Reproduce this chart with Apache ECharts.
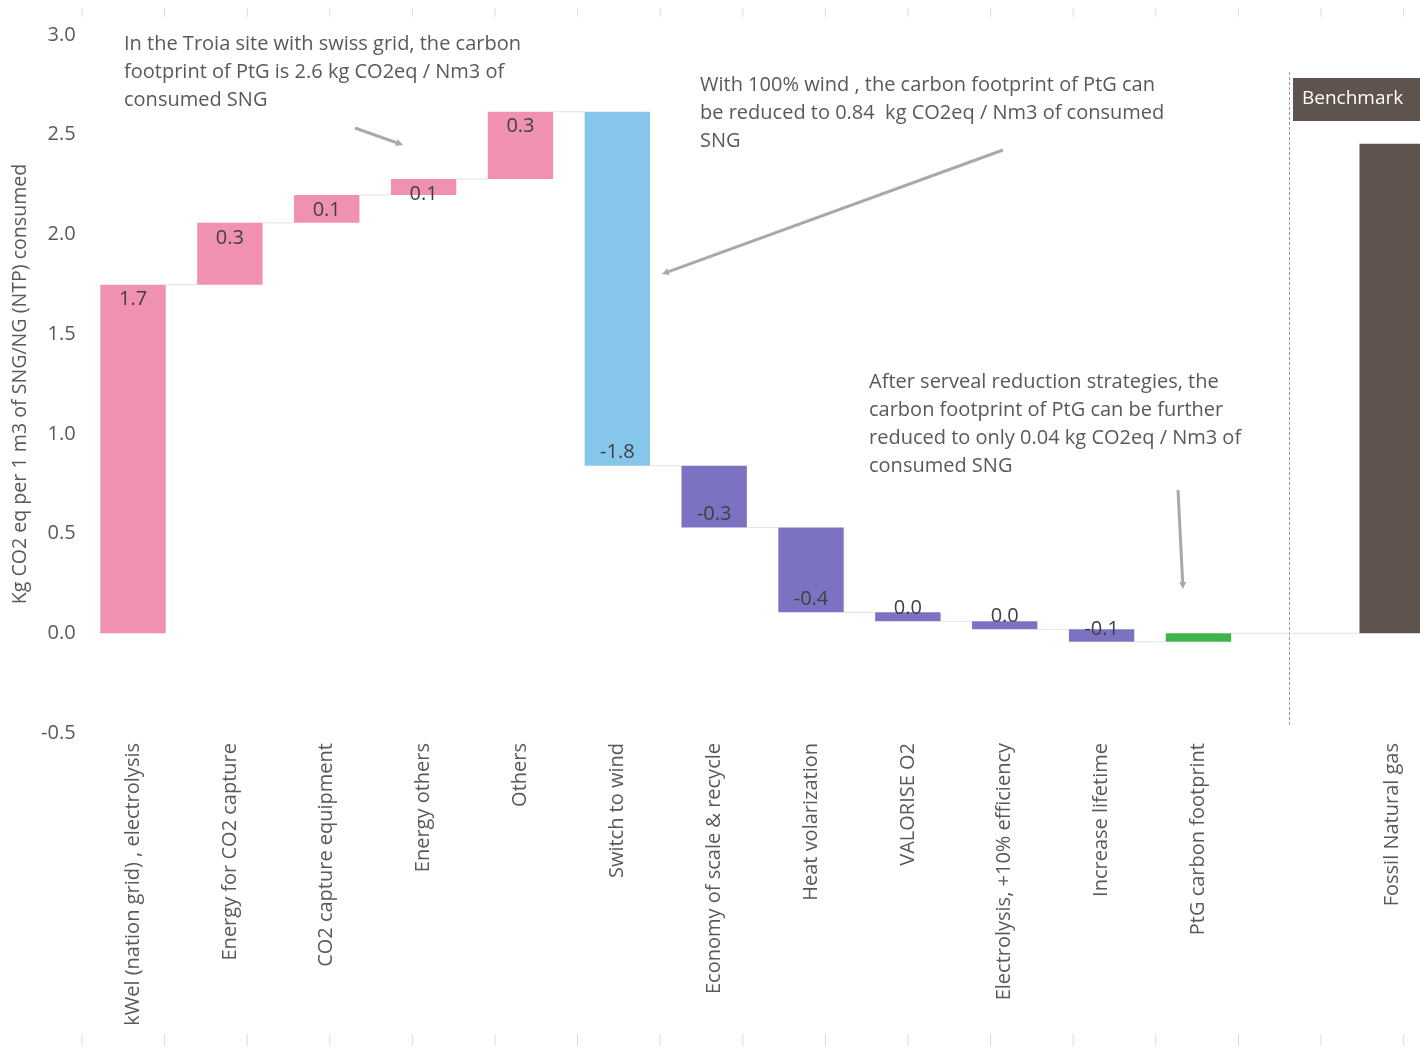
<!DOCTYPE html>
<html>
<head>
<meta charset="utf-8">
<script src="https://cdn.jsdelivr.net/npm/echarts@6/dist/echarts.min.js"></script>
<style>
html,body{margin:0;padding:0;background:#fff;}
#chart{width:1420px;height:1048px;}
</style>
</head>
<body>
<div id="chart"></div>
<script>
// ---------- data ----------
const categories = [
  'kWel (nation grid) , electrolysis',
  'Energy for CO2 capture',
  'CO2 capture equipment',
  'Energy others',
  'Others',
  'Switch to wind',
  'Economy of scale & recycle',
  'Heat volarization',
  'VALORISE O2',
  'Electrolysis, +10% efficiency',
  'Increase lifetime',
  'PtG carbon footprint',
  '',
  'Fossil Natural gas'
];
const stepValues = [1.748, 0.31, 0.14, 0.08, 0.337, -1.775, -0.31, -0.425, -0.045, -0.04, -0.063];
const stepLabels = ['1.7', '0.3', '0.1', '0.1', '0.3', '-1.8', '-0.3', '-0.4', '0.0', '0.0', '-0.1'];
const stepKinds  = ['up', 'up', 'up', 'up', 'up', 'wind', 'down', 'down', 'down', 'down', 'down'];
const fossilNaturalGas = 2.455;
const yTicks = [-0.5, 0, 0.5, 1.0, 1.5, 2.0, 2.5, 3.0];

// ---------- build waterfall rows ----------
const colors = {up:'#F191B2', wind:'#86C6EA', down:'#7C72C2', total:'#3DB54A', bench:'#5E534D'};
const rows = [];
let level = 0;
stepValues.forEach((v, i) => {
  rows.push([i, level, level + v, stepKinds[i], stepLabels[i]]);
  level += v;
});
rows.push([11, 0, level, 'total', '']);
rows.push([13, 0, fossilNaturalGas, 'bench', '']);

const FONT = '"Open Sans", Lato, sans-serif';
const TXT = '#595959';

const chart = echarts.init(document.getElementById('chart'), null, {renderer:'canvas'});

function renderItem(params, api) {
  const idx = api.value(0);
  const start = api.value(1);
  const end = api.value(2);
  const kind = rows[params.dataIndex][3];
  const lab = rows[params.dataIndex][4];
  const bw = api.size([1, 0])[0] * 0.675;
  const p0 = api.coord([idx, start]);
  const p1 = api.coord([idx, end]);
  const top = Math.min(p0[1], p1[1]);
  const bot = Math.max(p0[1], p1[1]);
  const children = [{
    type: 'rect',
    shape: {x: p0[0] - bw / 2, y: top, width: bw, height: bot - top},
    style: {fill: colors[kind]}
  }];
  const connLevel = (kind === 'total') ? start : end;
  const nextIdx = (kind === 'total') ? 13 : idx + 1;
  if (kind !== 'bench') {
    const q = api.coord([nextIdx, connLevel]);
    children.push({
      type: 'line',
      shape: {x1: p0[0] + bw / 2, y1: q[1], x2: q[0] - bw / 2, y2: q[1]},
      style: {stroke: '#e3e3e3', lineWidth: 1}
    });
  }
  if (lab) {
    const ty = end >= start ? top + 15 : bot - 13;
    children.push({
      type: 'text',
      style: {
        text: lab, x: p0[0], y: ty, align: 'center', verticalAlign: 'middle',
        font: '20px ' + FONT, fill: '#404040'
      }
    });
  }
  return {type: 'group', children};
}

function arrow(x1, y1, x2, y2) {
  const ang = Math.atan2(y2 - y1, x2 - x1);
  const L = 7, W = 3.5;
  const bx = x2 - L * Math.cos(ang), by = y2 - L * Math.sin(ang);
  const nx = -Math.sin(ang), ny = Math.cos(ang);
  return [
    {type: 'line', shape: {x1, y1, x2: bx, y2: by}, style: {stroke: '#a9a9a9', lineWidth: 3}},
    {type: 'polygon', shape: {points: [[x2, y2], [bx + nx * W, by + ny * W], [bx - nx * W, by - ny * W]]},
     style: {fill: '#a9a9a9'}}
  ];
}

const frameTicks = [];
for (let k = 0; k < 17; k++) {
  const x = 82 + k * 82.6;
  frameTicks.push({type: 'line', shape: {x1: x, y1: 8, x2: x, y2: 17}, style: {stroke: '#dcdcdc', lineWidth: 1}});
  frameTicks.push({type: 'line', shape: {x1: x, y1: 1034, x2: x, y2: 1046}, style: {stroke: '#dcdcdc', lineWidth: 1}});
}

const option = {
  backgroundColor: '#ffffff',
  animation: false,
  grid: {left: 84.6, width: 1356, top: 35, height: 698, containLabel: false, outerBoundsMode: 'none'},
  xAxis: {
    type: 'category',
    data: categories,
    axisLine: {show: false},
    axisTick: {show: false},
    axisLabel: {
      rotate: 90, interval: 0, margin: 10,
      color: TXT, fontSize: 20, fontFamily: FONT
    }
  },
  yAxis: {
    type: 'value',
    min: -0.5, max: 3.0, interval: 0.5,
    name: 'Kg CO2 eq per 1 m3 of SNG/NG (NTP) consumed',
    nameLocation: 'middle',
    nameGap: 54,
    nameTextStyle: {color: TXT, fontSize: 19.6, fontFamily: FONT},
    axisLine: {show: false},
    axisTick: {show: false},
    splitLine: {show: false},
    axisLabel: {
      color: TXT, fontSize: 20, fontFamily: FONT, margin: 9,
      formatter: v => yTicks.indexOf(v) >= 0 ? v.toFixed(1) : ''
    }
  },
  series: [{
    type: 'custom',
    renderItem,
    clip: false,
    encode: {x: 0, y: [1, 2]},
    data: rows.map(r => [r[0], r[1], r[2]])
  }],
  graphic: [
    ...frameTicks,
    {type: 'line', shape: {x1: 1289.5, y1: 72, x2: 1289.5, y2: 727},
     style: {stroke: '#9a9a9a', lineWidth: 1, lineDash: [3, 2]}},
    {type: 'rect', shape: {x: 1293, y: 78, width: 130, height: 43}, style: {fill: '#5E534D'}},
    {type: 'text', style: {text: 'Benchmark', x: 1302, y: 99, verticalAlign: 'middle',
      font: '19px ' + FONT, fill: '#ffffff'}},
    {type: 'text', style: {
      text: 'In the Troia site with swiss grid, the carbon\nfootprint of PtG is 2.6 kg CO2eq / Nm3 of\nconsumed SNG',
      x: 124, y: 30, font: '20px ' + FONT, fill: TXT, lineHeight: 28}},
    {type: 'text', style: {
      text: 'With 100% wind , the carbon footprint of PtG can\nbe reduced to 0.84  kg CO2eq / Nm3 of consumed\nSNG',
      x: 700, y: 71, font: '20px ' + FONT, fill: TXT, lineHeight: 28}},
    {type: 'text', style: {
      text: 'After serveal reduction strategies, the\ncarbon footprint of PtG can be further\nreduced to only 0.04 kg CO2eq / Nm3 of\nconsumed SNG',
      x: 869, y: 368, font: '20px ' + FONT, fill: TXT, lineHeight: 28}},
    ...arrow(355, 128, 403, 145),
    ...arrow(1003, 150, 662, 274),
    ...arrow(1178, 490, 1183, 589)
  ]
};
chart.setOption(option);
</script>
</body>
</html>
